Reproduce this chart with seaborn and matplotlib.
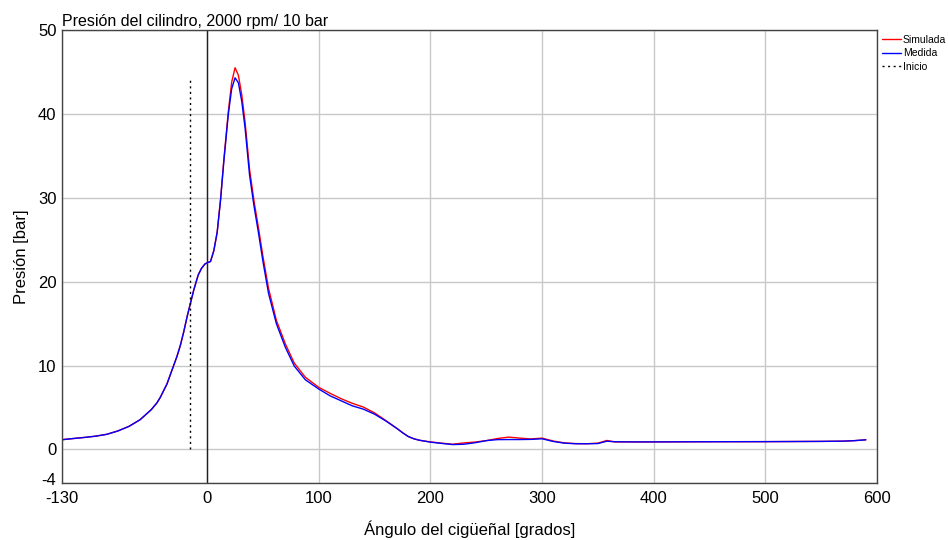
import numpy as np
import pandas as pd
import matplotlib
matplotlib.use("Agg")
import matplotlib.pyplot as plt
from matplotlib.lines import Line2D
import matplotlib.transforms as mtransforms
import seaborn as sns

# ---- data ----
angle = [-130, -120, -110, -100, -90, -80, -70, -60, -50, -45, -42, -36, -30, -27, -24, -21, -18, -15, -12,
         -8, -5, -2, 0, 3, 6, 9, 12, 15, 19, 22, 25, 28, 31, 34, 38, 42, 46, 50, 55,
         62, 70, 78, 88, 100, 110, 120, 130, 140, 150, 160, 170, 175, 180, 185, 190, 200, 210,
         220, 230, 240, 250, 260, 270, 280, 290, 300, 310, 320, 330, 340, 350, 358,
         365, 380, 400, 450, 500, 550, 570, 580, 590]

medida = [1.16, 1.3, 1.43, 1.58, 1.8, 2.2, 2.75, 3.55, 4.75, 5.55, 6.2, 7.8, 10.0, 11.1, 12.4, 14.0, 15.8, 17.4, 19.0,
          20.8, 21.6, 22.1, 22.25, 22.4, 23.7, 25.9, 29.7, 34.4, 40.0, 43.0, 44.3, 43.7, 41.5, 38.3, 32.7, 29.0, 25.8, 22.4, 18.6,
          15.0, 12.2, 9.95, 8.3, 7.2, 6.4, 5.8, 5.2, 4.8, 4.2, 3.4, 2.5, 2.0, 1.55, 1.28, 1.1, 0.87, 0.72,
          0.58, 0.62, 0.8, 1.05, 1.17, 1.18, 1.18, 1.2, 1.27, 0.95, 0.75, 0.68, 0.68, 0.7, 0.98,
          0.92, 0.9, 0.9, 0.92, 0.93, 0.96, 0.99, 1.05, 1.15]

simulada = [1.16, 1.3, 1.43, 1.58, 1.8, 2.2, 2.75, 3.55, 4.75, 5.55, 6.2, 7.8, 10.0, 11.1, 12.4, 14.0, 15.8, 17.4, 19.0,
            20.8, 21.6, 22.1, 22.25, 22.4, 23.7, 25.9, 29.8, 34.6, 40.3, 43.8, 45.5, 44.6, 42.3, 39.0, 33.4, 29.6, 26.4, 23.0, 19.2,
            15.4, 12.6, 10.3, 8.6, 7.4, 6.7, 6.05, 5.5, 5.05, 4.35, 3.45, 2.5, 2.0, 1.55, 1.28, 1.1, 0.9, 0.75,
            0.62, 0.78, 0.88, 1.05, 1.3, 1.47, 1.35, 1.25, 1.35, 1.0, 0.78, 0.7, 0.68, 0.75, 1.07,
            0.9, 0.9, 0.9, 0.92, 0.93, 0.96, 0.99, 1.05, 1.15]

inicio_angle = -15.5
inicio_top = 44.4

xticks = [-130, 0, 100, 200, 300, 400, 500, 600]
yticks = [-4, 0, 10, 20, 30, 40, 50]

df = pd.concat([
    pd.DataFrame({"angle": angle, "p": simulada, "serie": "Simulada"}),
    pd.DataFrame({"angle": angle, "p": medida, "serie": "Medida"}),
])

sns.set_theme(style="white")
plt.rcParams["font.family"] = ["Liberation Sans", "DejaVu Sans"]
plt.rcParams["text.color"] = "black"
plt.rcParams["axes.labelcolor"] = "black"
plt.rcParams["xtick.color"] = "black"
plt.rcParams["ytick.color"] = "black"

fig = plt.figure(figsize=(9.48, 5.4), dpi=100)
ax = fig.add_axes([62 / 948, 1 - 483 / 540, (877 - 62) / 948, (483 - 30) / 540])

sns.lineplot(data=df, x="angle", y="p", hue="serie",
             palette={"Simulada": "#ff0000", "Medida": "#0000ff"},
             hue_order=["Simulada", "Medida"], linewidth=1.0, ax=ax,
             legend=False, sort=False, estimator=None)

ax.axvline(0, color="#202020", linewidth=1.0, zorder=1)
ax.plot([inicio_angle, inicio_angle], [0, inicio_top], color="black",
        linestyle=(0, (1.5, 2.5)), linewidth=1.0)

ax.set_xlim(-130, 600)
ax.set_ylim(-4, 50)
ax.set_xticks(xticks)
ax.set_yticks(yticks)
ax.set_xticklabels([str(v) for v in xticks], fontsize=12)
ax.set_yticklabels([str(v) for v in yticks], fontsize=12)
ax.tick_params(axis="y", direction="in", length=5, width=1, color="#333333", pad=4)
ax.tick_params(axis="x", length=0, pad=6)

# lift the "-4" label slightly so it sits just above "-130"
lbl = ax.get_yticklabels()[0]
lbl.set_transform(lbl.get_transform() + mtransforms.ScaledTranslation(0, 4 / 100, fig.dpi_scale_trans))

ax.grid(True, color="#c8c8c8", linewidth=1.0)
ax.set_axisbelow(True)
for s in ax.spines.values():
    s.set_color("#444444")
    s.set_linewidth(1.0)

ax.set_xlabel("Ángulo del cigüeñal [grados]", fontsize=12, labelpad=10)
ax.set_ylabel("Presión [bar]", fontsize=12, labelpad=6)
ax.set_title("Presión del cilindro, 2000 rpm/ 10 bar", loc="left", fontsize=11.5, pad=3)

handles = [Line2D([], [], color="#ff0000", lw=1.0),
           Line2D([], [], color="#0000ff", lw=1.0),
           Line2D([], [], color="black", lw=1.0, linestyle=(0, (1.5, 2.5)))]
ax.legend(handles, ["Simulada", "Medida", "Inicio"], loc="upper left",
          bbox_to_anchor=(1.0, 1.0), frameon=False, fontsize=7.5,
          handlelength=1.9, handletextpad=0.15, borderaxespad=0.1,
          labelspacing=0.35, borderpad=0.35)

fig.savefig("out.png", dpi=100)
